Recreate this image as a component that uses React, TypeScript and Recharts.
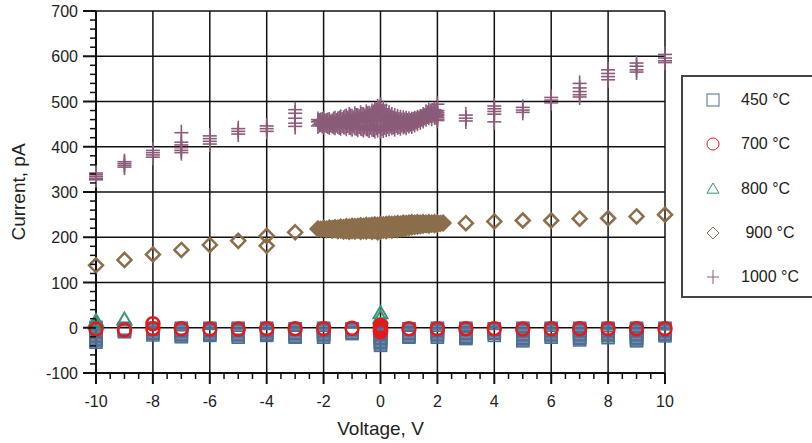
import React from 'react';
import { ScatterChart, Scatter, XAxis, YAxis, ReferenceLine } from 'recharts';

// ---------- data ----------
const voltSteps = [-10, -9, -8, -7, -6, -5, -4, -3, -2, -1, 0, 1, 2, 3, 4, 5, 6, 7, 8, 9, 10];

const cur450 = [
  [1, -2, -5, -8, -11, -14, -17, -20, -23, -26, -29, -32],
  [-1, -3, -5, -7, -9],
  [-1, -4, -7, -10, -13, -16],
  [-1, -3, -6, -9, -12, -15, -18, -20],
  [-1, -3, -6, -9, -12, -15, -17],
  [-1, -3, -6, -9, -12, -15, -18, -21],
  [-1, -3, -6, -9, -12, -15, -17],
  [-2, -4, -7, -10, -13, -16, -19, -21],
  [-1, -3, -6, -9, -12, -15, -18, -21],
  [-2, -4, -7, -10, -13],
  [0, -3, -6, -9, -12, -15, -18, -21, -24, -27, -30, -33, -36, -39],
  [-2, -4, -7, -10, -13, -16, -19, -21],
  [-1, -3, -6, -9, -12, -15, -18, -21],
  [-1, -4, -7, -10, -13, -16, -19, -22, -24],
  [-2, -4, -7, -10, -13, -17],
  [-1, -3, -6, -9, -12, -15, -18, -21, -24, -27, -29],
  [-1, -3, -6, -9, -12, -15, -18, -21],
  [-1, -3, -6, -9, -12, -15, -18, -21, -24, -27],
  [-1, -3, -6, -9, -12, -15, -18, -22],
  [-1, -3, -6, -9, -12, -15, -18, -21, -24, -27, -29],
  [-1, -3, -6, -9, -12, -15, -18],
];

const cur700 = [
  [-3], [-5], [-2, 9], [-2], [-3], [-3], [-2], [-2], [-2], [-1],
  [5, 2, 0, -2, -4, -7, -9],
  [-2], [-2], [-2], [-2], [-3], [-2], [-2], [-2], [-2], [-2],
];

const volt800 = [-10, -10, -9, 0, 0];
const cur800 = [15, 9, 18, 32, 22];

const volt900 = [-10, -9, -8, -7, -6, -5, -4, -4, -3, -2, 2, 3, 4, 5, 6, 7, 8, 9, 10];
const cur900 = [138, 150, 162, 172, 183, 192, 203, 181, 211, 219, 231, 231, 235, 237, 237, 241, 242, 246, 250];

const clusterVolt900 = [-2.2, -2.1, -2.0, -1.9, -1.8, -1.7, -1.6, -1.5, -1.4, -1.3, -1.2, -1.1, -1.0, -0.9, -0.8, -0.7, -0.6, -0.5, -0.4, -0.3, -0.2, -0.1, 0, 0.1, 0.2, 0.3, 0.4, 0.5, 0.6, 0.7, 0.8, 0.9, 1.0, 1.1, 1.2, 1.3, 1.4, 1.5, 1.6, 1.7, 1.8, 1.9, 2.0, 2.1, 2.2];
const cluster900Hi = [219, 218, 220, 219, 221, 220, 222, 221, 223, 222, 224, 223, 225, 224, 225, 226, 225, 227, 226, 227, 228, 227, 229, 228, 229, 230, 229, 230, 231, 230, 232, 231, 232, 233, 232, 233, 232, 233, 232, 233, 232, 233, 232, 231, 232];
const cluster900Lo = [218, 217, 218, 216, 217, 215, 216, 214, 215, 213, 214, 212, 214, 213, 215, 212, 214, 213, 215, 212, 214, 211, 213, 215, 214, 216, 215, 217, 216, 218, 219, 220, 221, 222, 223, 224, 225, 226, 227, 226, 228, 227, 229, 230, 231];

const volt1000 = [
  -10, -10, -10, -10, -10,
  -9, -9, -9, -9,
  -8, -8, -8, -8,
  -7, -7, -7, -7, -7, -7,
  -6, -6, -6, -6,
  -5, -5, -5,
  -4, -4, -4,
  -3, -3, -3, -3, -3,
  2, 2, 2, 2, 2,
  3, 3, 3,
  4, 4, 4, 4, 4,
  5, 5, 5,
  6, 6, 6,
  7, 7, 7, 7, 7,
  8, 8, 8, 8,
  9, 9, 9, 9,
  10, 10, 10, 10,
];
const cur1000 = [
  342, 338, 334, 330, 327,
  367, 363, 359, 355,
  392, 387, 382, 377,
  431, 410, 404, 398, 392, 387,
  424, 418, 412, 406,
  440, 434, 428,
  446, 440, 434,
  482, 474, 463, 452, 445,
  494, 480, 472, 465, 458,
  470, 463, 457,
  490, 484, 478, 472, 455,
  487, 481, 476,
  509, 503, 497,
  540, 530, 522, 515, 510,
  570, 562, 555, 548,
  585, 578, 570, 565,
  604, 596, 590, 586,
];

const clusterVolt1000 = [-2.2, -2.1, -2.0, -1.9, -1.8, -1.7, -1.6, -1.5, -1.4, -1.3, -1.2, -1.1, -1.0, -0.9, -0.8, -0.7, -0.6, -0.5, -0.4, -0.3, -0.2, -0.1, 0, 0.1, 0.2, 0.3, 0.4, 0.5, 0.6, 0.7, 0.8, 0.9, 1.0, 1.1, 1.2, 1.3, 1.4, 1.5, 1.6, 1.7, 1.8, 1.9, 2.0];
const cluster1000Hi = [460, 458, 461, 457, 459, 456, 462, 460, 465, 463, 467, 470, 466, 472, 468, 474, 470, 476, 473, 478, 482, 488, 492, 484, 478, 474, 470, 468, 466, 464, 463, 462, 461, 460, 462, 464, 466, 470, 476, 480, 478, 482, 476];
const cluster1000Mid = [455, 452, 453, 454, 451, 452, 450, 455, 452, 456, 454, 458, 452, 457, 454, 460, 455, 462, 456, 458, 460, 464, 468, 461, 457, 455, 452, 455, 453, 455, 452, 454, 453, 454, 456, 458, 461, 463, 468, 472, 470, 474, 469];
const cluster1000Lo = [446, 450, 445, 448, 444, 447, 443, 446, 442, 445, 441, 444, 440, 443, 439, 442, 438, 441, 437, 440, 436, 438, 435, 437, 439, 441, 443, 440, 444, 442, 445, 443, 447, 446, 449, 452, 455, 458, 462, 465, 463, 466, 461];

const clusterVolt1000b = [-2.15, -2.05, -1.95, -1.85, -1.75, -1.65, -1.55, -1.45, -1.35, -1.25, -1.15, -1.05, -0.95, -0.85, -0.75, -0.65, -0.55, -0.45, -0.35, -0.25, -0.15, -0.05, 0.05, 0.15, 0.25, 0.35, 0.45, 0.55, 0.65, 0.75, 0.85, 0.95, 1.05, 1.15, 1.25, 1.35, 1.45, 1.55, 1.65, 1.75, 1.85, 1.95];
const cluster1000B1 = [457, 459, 455, 458, 454, 460, 457, 462, 459, 465, 462, 467, 463, 468, 465, 470, 467, 472, 469, 475, 480, 484, 478, 472, 468, 465, 462, 460, 459, 458, 458, 457, 457, 459, 460, 462, 465, 468, 474, 476, 479, 477];
const cluster1000B2 = [449, 447, 450, 446, 449, 445, 449, 444, 448, 445, 448, 443, 447, 442, 446, 441, 445, 440, 444, 439, 443, 446, 441, 444, 446, 447, 445, 448, 446, 449, 447, 450, 451, 453, 456, 459, 462, 465, 468, 470, 471, 467];

const xMajor = [-10, -8, -6, -4, -2, 0, 2, 4, 6, 8, 10];
const xTicksAll = [-10, -9.5, -9, -8.5, -8, -7.5, -7, -6.5, -6, -5.5, -5, -4.5, -4, -3.5, -3, -2.5, -2, -1.5, -1, -0.5, 0, 0.5, 1, 1.5, 2, 2.5, 3, 3.5, 4, 4.5, 5, 5.5, 6, 6.5, 7, 7.5, 8, 8.5, 9, 9.5, 10];
const yMajor = [-100, 0, 100, 200, 300, 400, 500, 600, 700];
const yTicksAll = [-100, -80, -60, -40, -20, 0, 20, 40, 60, 80, 100, 120, 140, 160, 180, 200, 220, 240, 260, 280, 300, 320, 340, 360, 380, 400, 420, 440, 460, 480, 500, 520, 540, 560, 580, 600, 620, 640, 660, 680, 700];

const seriesNames = ['450 °C', '700 °C', '800 °C', ' 900 °C', '1000 °C'];
const seriesColors = ['#4f6e93', '#e31a1c', '#3a9277', '#8b6e4b', '#8b5b79'];

// ---------- build tables ----------
const fromSteps = (steps: number[], vals: number[][]) =>
  steps.flatMap((v, k) => vals[k].map((i) => ({ v, i })));
const fromPairs = (vs: number[], is: number[]) => vs.map((v, k) => ({ v, i: is[k] }));

const data450 = fromSteps(voltSteps, cur450);
const data700 = fromSteps(voltSteps, cur700);
const data800 = fromPairs(volt800, cur800);
const data900 = [
  ...fromPairs(volt900, cur900),
  ...fromPairs(clusterVolt900, cluster900Hi),
  ...fromPairs(clusterVolt900, cluster900Lo),
];
const data1000 = [
  ...fromPairs(volt1000, cur1000),
  ...fromPairs(clusterVolt1000, cluster1000Hi),
  ...fromPairs(clusterVolt1000, cluster1000Mid),
  ...fromPairs(clusterVolt1000, cluster1000Lo),
  ...fromPairs(clusterVolt1000b, cluster1000B1),
  ...fromPairs(clusterVolt1000b, cluster1000B2),
];
const allData = [data450, data700, data800, data900, data1000];

// ---------- markers ----------
const FONT = '"Liberation Sans", Arial, Helvetica, sans-serif';

const Square = ({ cx, cy, c, s = 6, w = 1.5 }: any) => (
  <rect x={cx - s} y={cy - s} width={2 * s} height={2 * s} fill="none" stroke={c} strokeWidth={w} />
);
const Circ = ({ cx, cy, c, s = 6.5, w = 2.5 }: any) => (
  <circle cx={cx} cy={cy} r={s} fill="none" stroke={c} strokeWidth={w} />
);
const Tri = ({ cx, cy, c, s = 7, w = 2 }: any) => (
  <polygon points={`${cx},${cy - s} ${cx - s},${cy + s * 0.7} ${cx + s},${cy + s * 0.7}`} fill="none" stroke={c} strokeWidth={w} />
);
const Diam = ({ cx, cy, c, s = 7, w = 2.5 }: any) => (
  <polygon points={`${cx},${cy - s} ${cx + s},${cy} ${cx},${cy + s} ${cx - s},${cy}`} fill="none" stroke={c} strokeWidth={w} />
);
const Plus = ({ cx, cy, c, s = 7, w = 1.6 }: any) => (
  <g stroke={c} strokeWidth={w}>
    <line x1={cx - s} x2={cx + s} y1={cy} y2={cy} />
    <line x1={cx} x2={cx} y1={cy - s - 1} y2={cy + s + 1} />
  </g>
);
const markers = [Square, Circ, Tri, Diam, Plus];

// ---------- ticks ----------
const XTick = (props: any) => {
  const { x, y, payload } = props;
  const v = payload.value;
  const major = xMajor.includes(v);
  return (
    <g>
      <line x1={x} x2={x} y1={y} y2={y + (major ? 11 : 6)} stroke="#111" strokeWidth={major ? 2 : 1.5} />
      {major && (
        <text x={x} y={y + 34} textAnchor="middle" fontSize={16} fill="#222" fontFamily={FONT}>
          {v}
        </text>
      )}
    </g>
  );
};
const YTick = (props: any) => {
  const { x, y, payload } = props;
  const v = payload.value;
  const major = yMajor.includes(v);
  return (
    <g>
      <line x1={x - (major ? 13 : 6)} x2={x} y1={y} y2={y} stroke="#111" strokeWidth={major ? 2 : 1.5} />
      {major && (
        <text x={x - 18} y={y + 6} textAnchor="end" fontSize={16} fill="#222" fontFamily={FONT}>
          {v}
        </text>
      )}
    </g>
  );
};

const Legend = () => (
  <div
    style={{
      position: 'absolute',
      left: 681,
      top: 75,
      width: 150,
      height: 219,
      border: '2px solid #444',
      fontFamily: FONT,
      fontSize: 16,
      color: '#222',
    }}
  >
    {seriesNames.map((name, k) => {
      const M = markers[k];
      const top = 23 + k * 44.3;
      return (
        <div key={name}>
          <svg style={{ position: 'absolute', left: 20, top: top - 9 }} width={20} height={18}>
            <M cx={10} cy={9} c={seriesColors[k]} s={6} w={1} />
          </svg>
          <span style={{ position: 'absolute', left: 58, top: top - 10, whiteSpace: 'pre', lineHeight: '20px' }}>{name}</span>
        </div>
      );
    })}
  </div>
);

export default function App() {
  return (
    <div style={{ position: 'absolute', left: 0, top: 0, width: 812, height: 443, overflow: 'hidden', background: '#fff' }}>
      <ScatterChart width={812} height={443} margin={{ top: 11, right: 147, bottom: 0, left: 0 }}>
        <XAxis
          type="number"
          dataKey="v"
          domain={[-10, 10]}
          ticks={xTicksAll}
          interval={0}
          tickSize={0}
          tickMargin={0}
          tickLine={false}
          tick={<XTick />}
          axisLine={{ stroke: '#111', strokeWidth: 2 }}
          height={70}
          label={{
            content: ({ viewBox }: any) => (
              <text x={viewBox.x + viewBox.width / 2} y={428} textAnchor="middle" dominantBaseline="central" fontSize={19} fill="#222" fontFamily={FONT}>
                Voltage, V
              </text>
            ),
          }}
        />
        <YAxis
          type="number"
          dataKey="i"
          domain={[-100, 700]}
          ticks={yTicksAll}
          interval={0}
          tickSize={0}
          tickMargin={0}
          tickLine={false}
          tick={<YTick />}
          axisLine={{ stroke: '#111', strokeWidth: 2 }}
          width={96}
          label={{
            content: ({ viewBox }: any) => {
              const cy = viewBox.y + viewBox.height / 2;
              return (
                <text x={18} y={cy} transform={`rotate(-90, 18, ${cy})`} textAnchor="middle" dominantBaseline="central" fontSize={19} fill="#222" fontFamily={FONT}>
                  Current, pA
                </text>
              );
            },
          }}
        />
        {xMajor.map((v) => (
          <ReferenceLine key={'gx' + v} x={v} stroke="#111" strokeWidth={1.5} />
        ))}
        {yMajor.map((v) => (
          <ReferenceLine key={'gy' + v} y={v} stroke="#111" strokeWidth={1.5} />
        ))}
        {[0, 2, 1, 3, 4].map((k) => {
          const M = markers[k];
          return (
            <Scatter
              key={seriesNames[k]}
              name={seriesNames[k]}
              data={allData[k]}
              isAnimationActive={false}
              shape={(p: any) => <M cx={p.cx} cy={p.cy} c={seriesColors[k]} />}
            />
          );
        })}
      </ScatterChart>
      <Legend />
    </div>
  );
}
